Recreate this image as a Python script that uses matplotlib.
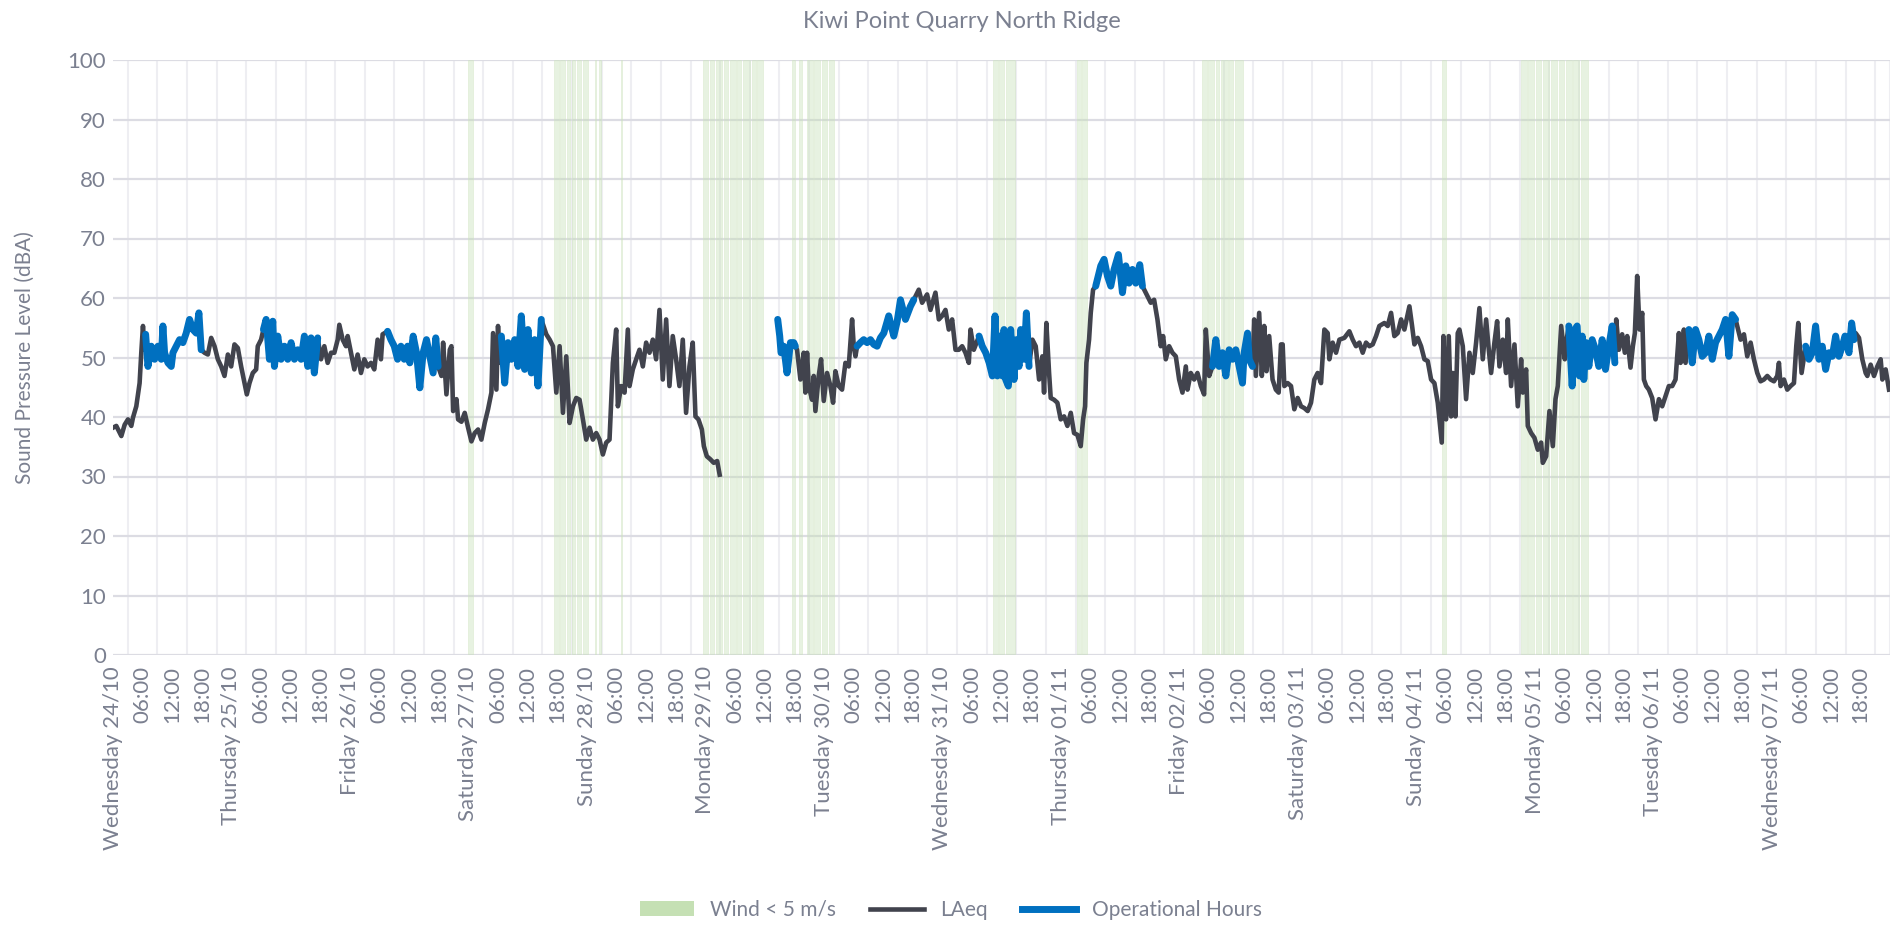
import numpy as np
import pandas as pd
import matplotlib
matplotlib.use("Agg")
import matplotlib.pyplot as plt
from matplotlib.patches import Patch
from matplotlib.lines import Line2D

plt.rcParams["font.family"] = ["Lato", "DejaVu Sans"]

# hours since Wednesday 24/10 00:00 and measured LAeq (dBA)
hours = [
    0.0, 0.67, 1.69, 2.36, 3.03, 3.71, 4.05, 4.72, 5.39, 5.73, 6.07, 6.41, 6.61, 7.08, 7.75, 8.43,
    9.10, 9.78, 10.11, 10.45, 11.13, 11.80, 12.14, 12.81, 13.49, 14.16, 14.83, 15.51, 16.18, 16.86,
    17.40, 17.87, 18.54, 19.22, 19.89, 20.57, 21.24, 21.92, 22.59, 23.27, 23.94, 24.61, 25.29, 25.96,
    26.64, 27.11, 27.65, 28.32, 29.0, 29.33, 30.0, 30.48, 31.02, 31.69, 32.37, 32.70, 33.38, 34.05,
    34.73, 35.40, 36.08, 36.75, 37.42, 38.10, 38.77, 39.45, 40.12, 40.79, 41.47, 42.14, 42.81, 43.49,
    44.17, 44.84, 45.52, 45.85, 46.53, 47.20, 47.54, 48.21, 48.89, 49.56, 50.24, 50.91, 51.58, 52.26,
    52.93, 53.61, 54.28, 54.62, 55.63, 56.30, 56.98, 57.65, 58.33, 59.0, 59.68, 60.13, 60.81, 61.48,
    62.16, 62.83, 63.51, 64.18, 64.86, 65.39, 65.87, 66.54, 66.88, 67.55, 68.23, 68.56, 68.90, 69.58,
    69.91, 70.59, 71.26, 71.94, 72.61, 73.28, 73.96, 74.63, 75.31, 75.98, 76.66, 76.99, 77.67, 78.0,
    78.34, 78.68, 79.35, 80.03, 80.70, 81.38, 82.05, 82.72, 83.40, 84.07, 84.75, 85.42, 86.10, 86.77,
    87.78, 88.46, 89.13, 89.81, 90.48, 91.15, 91.83, 92.50, 93.18, 93.85, 94.52, 95.20, 95.87, 96.55,
    97.22, 97.90, 98.57, 99.24, 99.92, 100.59, 101.27, 101.94, 102.28, 102.95, 103.63, 104.30, 104.64,
    105.31, 105.99, 106.66, 107.34, 108.01, 108.69, 109.36, 110.03, 110.71, 111.38, 112.06, 112.73,
    113.40, 114.08, 114.75, 115.43, 116.10, 116.78, 117.45, 118.0, 118.6, 119.3, 119.7, 120.3, 121.0,
    121.7, 122.4, 122.9, 128.0,
    134.66, 135.07, 135.34, 135.88, 136.55, 136.89, 137.23, 137.91, 138.24, 138.58, 139.26, 139.93,
    140.27, 140.61, 140.95, 141.62, 141.96, 142.30, 142.97, 143.45, 143.99, 144.66, 145.34, 145.88,
    146.35, 147.03, 147.70, 148.38, 149.05, 149.73, 150.07, 150.41, 150.74, 151.42, 152.09, 152.77,
    153.45, 154.12, 154.80, 155.47, 156.15, 157.16, 158.18, 158.85, 159.53, 160.54, 161.55, 162.23,
    163.24, 163.92, 164.93, 165.61, 166.62, 167.30, 167.97, 168.65, 169.32, 170.0, 170.68, 171.35,
    172.03, 172.70, 173.38, 173.72, 174.39, 175.45, 176.1, 176.8, 177.5, 178.15, 178.69, 179.16,
    179.64, 180.18, 180.51, 180.85, 181.39, 181.86, 182.54, 183.01, 183.55, 183.89, 184.57, 185.04,
    185.58, 186.26, 186.93, 187.61, 188.28, 188.62, 189.09, 189.64, 189.97, 190.65, 191.32, 192.0,
    192.68, 193.35, 194.03, 194.70, 195.38, 196.05, 196.53, 196.93, 197.20, 197.74, 198.08, 198.55,
    199.09, 200.11, 200.78, 201.46, 202.14, 202.81, 203.69, 204.50, 205.18, 205.85, 206.53, 207.20,
    208.01, 208.55, 209.57, 210.24, 210.92, 211.59, 212.27, 212.74, 213.28, 213.96, 214.63, 215.31,
    215.99, 216.66, 217.34, 217.68, 218.35, 219.03, 219.70, 220.38, 221.05, 221.39, 222.07, 222.74,
    223.42, 224.09, 224.77, 225.45, 226.12, 226.80, 227.47, 228.15, 228.82, 229.16, 229.84, 230.18,
    230.85, 231.19, 231.53, 232.20, 232.74, 233.22, 233.69, 234.23, 234.91, 235.58, 236.15, 236.62,
    236.96, 237.30, 237.97, 238.65, 239.32, 240.0, 240.68, 241.35, 242.03, 242.70, 243.38, 244.05,
    244.73, 245.41, 246.08, 246.42, 247.09, 247.77, 248.45, 249.46, 250.47, 251.15, 251.82, 252.50,
    253.18, 253.85, 254.53, 255.20, 255.88, 256.55, 257.57, 258.24, 258.92, 259.59, 260.27, 260.95,
    261.62, 262.64, 263.18, 263.65, 264.32, 265.0, 265.68, 266.35, 267.03, 267.70, 268.38, 268.72,
    269.19, 269.53, 270.07, 270.61, 271.08, 271.42, 271.96, 272.43, 272.77, 273.45, 274.12, 274.80,
    275.47, 276.15, 276.82, 277.50, 278.18, 278.72, 279.19, 279.86, 280.41, 280.88, 281.55, 282.23,
    282.57, 283.24, 283.92, 284.59, 285.27, 285.61, 286.28, 286.62, 287.30, 287.97, 288.65, 289.32,
    289.66, 290.34, 291.01, 291.69, 292.23, 292.70, 293.38, 294.12, 294.39, 294.93, 295.61, 296.15,
    296.62, 297.09, 297.64, 297.97, 298.45, 298.99, 299.66, 300.34, 301.01, 301.69, 302.36, 303.04,
    303.72, 304.26, 304.53, 305.07, 305.74, 306.28, 306.76, 307.43, 307.91, 308.31, 308.78, 309.26,
    309.80, 310.14, 310.61, 311.15, 311.82, 312.50, 313.18, 313.85, 314.53, 315.20, 315.88, 316.55,
    317.23, 317.57, 317.91, 318.24, 318.58, 319.26, 319.93, 320.61, 321.28, 321.96, 322.64, 323.31,
    323.99, 324.66, 325.34, 326.01, 326.69, 327.36, 328.04, 328.72, 329.73, 330.41, 331.08, 331.76,
    332.43, 333.11, 333.78, 334.46, 335.14, 335.81, 336.49, 337.16, 337.50, 337.84, 338.51, 339.19,
    339.86, 340.54, 341.01, 341.42, 342.09, 342.91, 343.58, 344.26, 344.93, 345.61, 346.28, 346.96,
    347.64, 348.31, 348.99, 349.66, 350.34, 350.88, 351.69, 352.23, 352.70, 353.04, 353.72, 354.39,
    355.07, 355.41, 356.08, 356.76, 357.43, 358.11, 358.45, 359.12, 359.80,
]

laeq = [
    38.2, 38.5, 36.8, 38.7, 39.6, 38.5, 39.9, 41.8, 45.7, 50.8, 55.3, 51.3, 53.9, 48.5, 51.9, 49.7,
    51.9, 49.7, 55.3, 50.8, 49.1, 48.5, 50.8, 51.9, 53.0, 52.5, 54.1, 56.4, 54.7, 54.1,
    57.5, 51.3, 50.8, 50.5, 53.3, 51.9, 49.7, 48.5, 46.9, 50.5, 48.5, 52.2, 51.6, 48.5,
    45.7, 43.8, 45.7, 47.4, 48.0, 51.9, 53.0, 54.7, 56.4, 49.7, 56.1, 48.5, 53.6, 49.7,
    51.9, 49.7, 52.5, 49.7, 51.3, 49.7, 53.6, 48.5, 53.3, 47.4, 53.3, 49.7, 51.9, 49.1,
    50.8, 50.8, 53.0, 55.5, 53.0, 51.9, 53.6, 50.8, 48.0, 50.5, 47.4, 49.7, 48.5, 49.1,
    48.0, 53.0, 49.7, 53.9, 54.4, 53.0, 51.9, 49.7, 51.9, 49.7, 51.9, 49.1, 53.6, 50.8,
    44.9, 50.8, 53.0, 50.2, 47.4, 53.3, 48.5, 46.9, 52.5, 43.8, 51.3, 51.9, 41.0, 43.0,
    39.6, 39.2, 40.7, 38.2, 35.9, 37.3, 37.9, 36.2, 39.0, 41.3, 44.1, 54.1, 44.6, 55.3,
    49.1, 53.6, 45.7, 52.5, 49.7, 53.0, 48.5, 57.0, 48.0, 54.7, 47.4, 53.0, 45.2, 56.4,
    53.9, 53.0, 51.9, 44.1, 51.9, 40.7, 50.2, 39.0, 41.8, 43.2, 42.9, 39.6, 36.2, 38.2,
    36.2, 37.3, 36.2, 33.7, 35.7, 36.2, 49.1, 54.7, 41.8, 45.2, 44.1, 54.7, 45.2,
    48.0, 49.7, 51.3, 48.5, 52.5, 50.8, 53.0, 49.7, 58.0, 46.3, 56.4, 45.2,
    53.6, 49.7, 45.2, 53.0, 40.7, 48.5, 52.5, 40.1, 39.6, 37.9, 35.1, 33.4, 32.9,
    32.3, 32.6, 30.3, np.nan,
    56.4, 53.6, 50.8, 51.9, 47.4, 49.7, 52.5, 52.5, 51.9, 51.3, 46.3, 50.8,
    44.1, 50.8, 45.2, 42.9, 46.9, 41.0, 46.9, 49.7, 42.7, 47.4, 45.2, 42.4,
    47.7, 45.2, 44.6, 49.1, 48.5, 56.4, 51.9, 50.2, 51.9, 52.5, 53.0, 52.5,
    53.0, 52.2, 51.9, 53.3, 54.1, 57.0, 53.6, 56.0, 59.7, 56.4, 58.6, 59.7,
    61.4, 59.2, 60.6, 58.0, 60.9, 56.4, 57.0, 58.0, 54.7, 56.4, 51.3, 51.3,
    51.9, 50.8, 49.1, 54.7, 51.3, 53.6, 51.9, 50.8, 49.1, 46.9, 57.0, 46.9,
    53.6, 46.9, 54.7, 46.3, 45.2, 54.7, 46.3, 53.0, 48.5, 54.7, 49.7, 57.5,
    48.5, 53.0, 51.9, 46.3, 50.2, 44.1, 55.8, 47.4, 43.2, 42.9, 42.4, 39.6,
    40.1, 38.5, 40.7, 37.3, 37.0, 35.1, 39.6, 41.8, 49.1, 53.0, 57.5, 61.4,
    62.0, 65.4, 66.5, 63.7, 62.0, 64.8, 67.3, 60.9, 65.4, 62.5, 64.8, 62.5,
    65.6, 62.0, 60.3, 59.2, 59.7, 56.4, 51.9, 53.6, 49.7, 51.9, 50.8, 50.2,
    46.3, 44.1, 48.5, 44.6, 47.4, 46.3, 47.4, 45.2, 43.8, 54.7, 46.9, 48.5,
    53.0, 48.5, 50.8, 46.9, 51.3, 49.7, 51.3, 48.5, 45.7, 50.8, 54.1, 49.7,
    48.5, 56.4, 46.9, 57.5, 46.9, 55.3, 47.7, 53.6, 46.3, 44.6, 44.1, 52.2,
    52.2, 45.2, 45.7, 45.2, 41.3, 43.2, 41.8, 41.5, 41.0, 42.4, 46.3, 47.4,
    45.7, 54.7, 54.1, 49.7, 52.5, 50.8, 53.0, 53.3, 54.4, 53.0, 51.9, 52.5,
    50.8, 52.5, 51.9, 52.2, 53.6, 55.3, 55.8, 55.3, 57.5, 53.6, 54.1, 56.4,
    54.7, 58.6, 55.3, 52.2, 53.3, 51.9, 49.7, 49.4, 46.3, 45.7, 42.4, 39.6,
    35.7, 53.6, 39.6, 53.6, 40.1, 47.4, 40.1, 54.1, 54.7, 51.9, 43.0, 50.8,
    47.4, 52.5, 58.3, 49.7, 56.4, 51.3, 47.4, 52.5, 56.1, 48.5, 53.0, 47.4,
    56.4, 45.2, 52.2, 41.8, 49.7, 44.1, 48.0, 38.5, 37.3, 36.5, 34.5, 35.7,
    32.3, 33.4, 41.0, 35.1, 43.0, 45.2, 55.3, 49.7, 52.5, 55.3, 45.2, 54.7,
    55.3, 46.9, 53.6, 46.3, 52.5, 48.5, 53.0, 51.3, 48.5, 53.0, 48.0, 51.9,
    55.3, 49.1, 56.4, 51.3, 53.9, 50.8, 53.6, 48.3, 51.9, 54.1, 63.7, 54.7,
    57.5, 46.3, 45.2, 44.6, 43.2, 39.6, 43.0, 41.8, 43.5, 45.2, 45.2, 46.3,
    54.1, 49.1, 49.7, 54.7, 49.1, 54.7, 49.1, 54.7, 53.0, 50.2, 50.8, 53.6,
    49.7, 52.5, 53.6, 54.7, 56.4, 50.2, 57.2, 56.4, 53.0, 53.9, 50.2, 52.5,
    49.7, 47.4, 46.0, 46.3, 46.9, 46.3, 46.0, 46.9, 49.1, 45.2, 46.3, 44.6,
    45.2, 45.7, 51.9, 55.8, 47.4, 51.9, 49.7, 50.8, 55.3, 49.7, 51.9, 48.0,
    50.8, 50.2, 53.6, 50.2, 51.9, 53.6, 50.8, 55.8, 53.0, 54.1, 53.3, 49.7,
    47.4, 46.9, 48.8, 46.9, 48.5, 49.7, 46.3, 48.0, 44.6,
]

# operational hours windows (hours since start)
op_start = [6.6, 30.4, 54.7, 78.6, 134.6, 150.7, 174.7, 198.8, 222.4, 294.6, 318.9, 342.6, 352.1]
op_end = [18.2, 41.8, 66.2, 87.2, 138.4, 162.6, 185.9, 209.1, 231.0, 304.4, 329.3, 351.8, 352.9]

# periods with wind < 5 m/s (hours since start)
wind_start = [72.0, 89.3, 90.6, 91.9, 93.0, 93.9, 95.2, 97.6, 98.5, 103.0,
              119.5, 120.9, 122.1, 123.7, 124.9, 126.5, 127.7, 129.4, 130.5,
              137.6, 138.9, 140.6, 142.1, 143.6, 145.0,
              178.3, 179.5, 181.0, 195.3, 196.4,
              220.7, 221.9, 223.4, 224.5, 226.1, 227.4, 269.2,
              285.2, 286.7, 288.2, 289.7, 291.3, 292.9, 294.4, 295.8, 297.3]
wind_end = [72.9, 90.3, 91.5, 92.6, 93.6, 94.8, 96.2, 97.9, 98.8, 103.2,
            120.6, 121.8, 123.4, 124.5, 126.2, 127.3, 129.0, 130.2, 131.7,
            138.1, 139.5, 141.8, 143.3, 144.6, 146.0,
            179.2, 180.6, 182.7, 196.1, 197.3,
            221.6, 223.0, 224.1, 225.8, 227.0, 228.9, 270.0,
            286.4, 287.9, 289.3, 291.0, 292.6, 294.0, 295.5, 297.0, 298.8]

start_date = pd.Timestamp("2018-10-24")
tick_hours = list(range(0, 360, 6))
tick_labels = []
for h in tick_hours:
    t = start_date + pd.Timedelta(hours=h)
    if t.hour == 0:
        tick_labels.append(t.strftime("%A %d/%m"))
    else:
        tick_labels.append(t.strftime("%H:%M"))

hours = np.array(hours)
laeq = np.array(laeq)
in_op = np.zeros(len(hours), dtype=bool)
for s, e in zip(op_start, op_end):
    in_op |= (hours >= s) & (hours <= e)
op_vals = np.where(in_op, laeq, np.nan)

grey = "#7b8090"
fig = plt.figure(figsize=(18.97, 9.27), dpi=100)
ax = fig.add_axes([113 / 1897, 272 / 927, 1777 / 1897, 595 / 927])

for s, e in zip(wind_start, wind_end):
    ax.bar(s, 100, width=e - s, align="edge", color="#c5e0b4", alpha=0.4,
           edgecolor="#cfe5c0", linewidth=0.7, zorder=1)

ax.plot(hours, laeq, color="#41434d", lw=3.3, zorder=3)
ax.plot(hours, op_vals, color="#0070c0", lw=5.0, zorder=4, solid_capstyle="round")

ax.set_xlim(0, 360)
ax.set_ylim(0, 100)
ax.set_yticks(range(0, 101, 10))
ax.set_xticks(tick_hours)
ax.set_xticklabels(tick_labels, rotation=90)
ax.set_xticks(np.arange(0, 361, 3), minor=True)
ax.grid(axis="x", which="minor", color="#eeeef2", lw=1.5, zorder=0)
ax.grid(axis="y", which="major", color="#dcdce3", lw=1.6, zorder=0)
ax.set_axisbelow(True)
for sp in ax.spines.values():
    sp.set_visible(False)
ax.tick_params(axis="both", which="both", length=0, labelsize=16, colors=grey)
ax.tick_params(axis="y", pad=5)
ax.tick_params(axis="x", pad=8)

ax.set_ylabel("Sound Pressure Level (dBA)", fontsize=15, color=grey)
ax.yaxis.set_label_coords(-0.044, 0.5)
fig.text(962 / 1897, 1 - 22 / 927, "Kiwi Point Quarry North Ridge", ha="center", va="center",
         fontsize=17, color=grey)

handles = [
    Patch(facecolor="#c5e0b4", edgecolor="none"),
    Line2D([0], [0], color="#41434d", lw=3.3),
    Line2D([0], [0], color="#0070c0", lw=5.0),
]
fig.legend(handles, ["Wind < 5 m/s", "LAeq", "Operational Hours"], loc="center",
           bbox_to_anchor=(951 / 1897, 1 - 910 / 927), ncol=3, frameon=False,
           fontsize=15, labelcolor=grey, handlelength=2.6, columnspacing=1.6)

fig.savefig("out.png", dpi=100)
